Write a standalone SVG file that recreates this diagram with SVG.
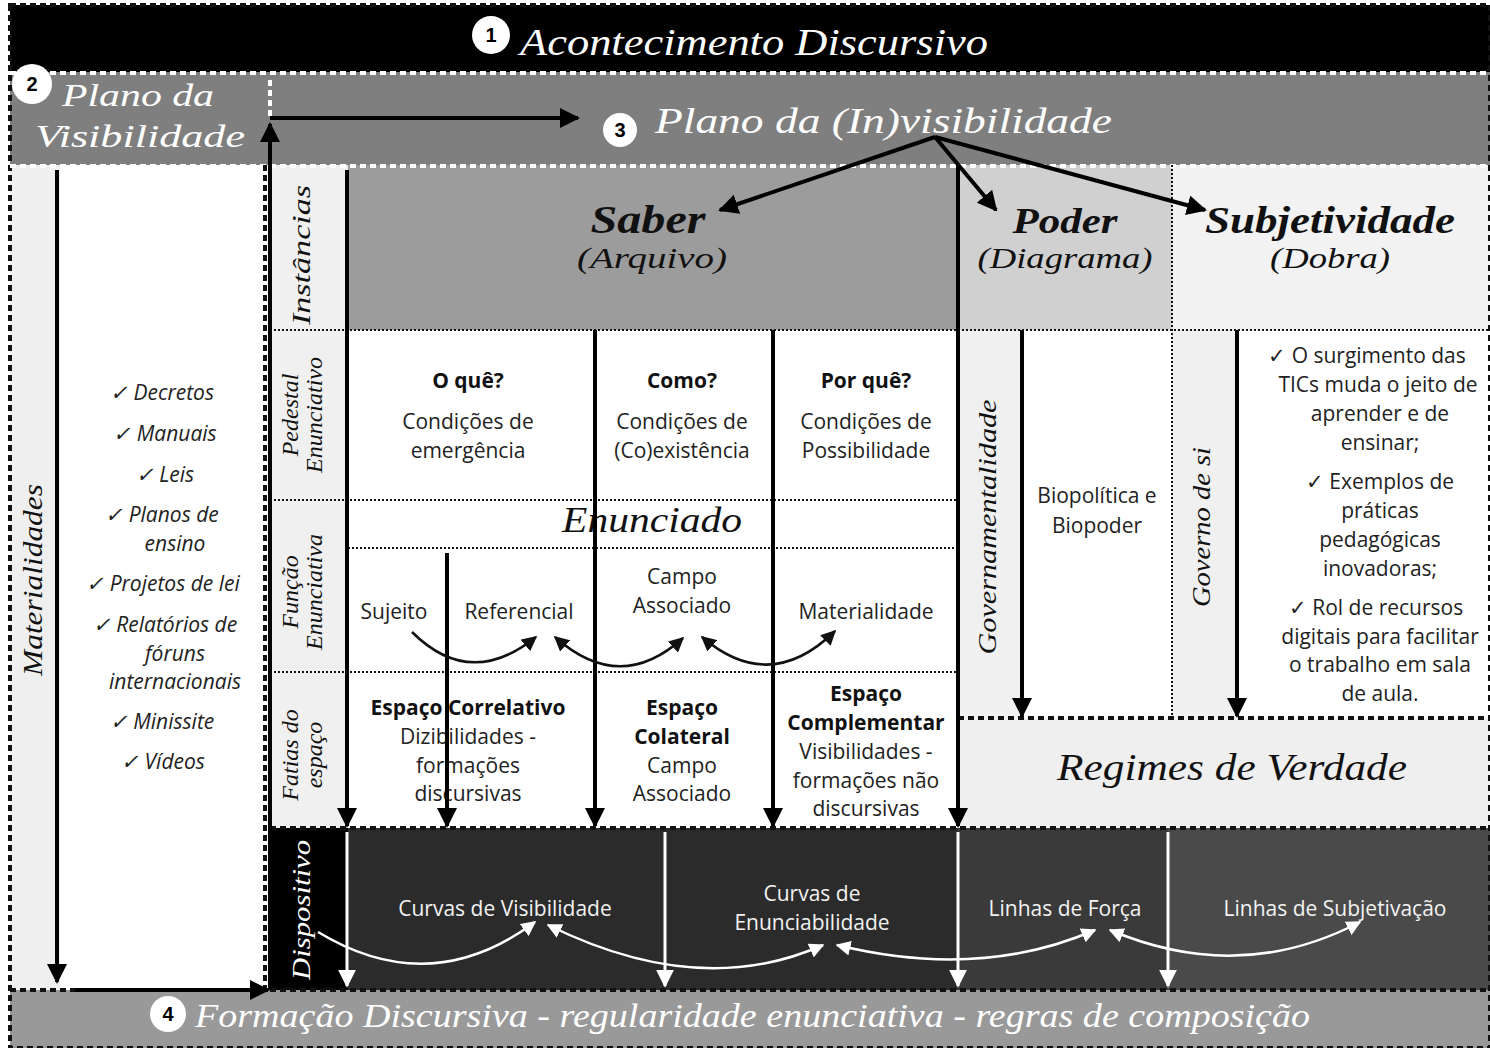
<svg xmlns="http://www.w3.org/2000/svg" width="1490" height="1048" viewBox="0 0 1490 1048">
<style>
.script{font-family:"Liberation Serif","DejaVu Serif",serif;font-style:italic}
.sw{fill:#fff}
.sb{fill:#111}
.body{font-family:"Open Sans","Lato","Liberation Sans",sans-serif;font-size:21px;fill:#222;text-anchor:middle}
.it{font-style:italic}
.bold{font-weight:bold;fill:#111}
.wt{font-family:"Open Sans","Lato","Liberation Sans",sans-serif;font-size:21px;fill:#f2f2f2;text-anchor:middle}
.dotk{stroke:#111;stroke-width:2;stroke-dasharray:2 2;fill:none}
.dotK{stroke:#111;stroke-width:4;stroke-dasharray:6 4;fill:none}
.dotw{stroke:#fff;stroke-width:4;stroke-dasharray:6 4;fill:none}
.ak{stroke:#000;stroke-width:4;fill:none;marker-end:url(#hk)}
.aw{stroke:#fff;stroke-width:3;fill:none;marker-end:url(#hw)}
.ck{stroke:#111;stroke-width:2.5;fill:none;marker-end:url(#hk2)}
.ck2{stroke:#111;stroke-width:2.5;fill:none;marker-start:url(#hk2s);marker-end:url(#hk2)}
.cw{stroke:#fff;stroke-width:2.5;fill:none;marker-end:url(#hw2)}
.cw2{stroke:#fff;stroke-width:2.5;fill:none;marker-start:url(#hw2s);marker-end:url(#hw2)}
.num{font-family:"Liberation Sans",sans-serif;font-weight:bold;font-size:20px;fill:#000;text-anchor:middle}
</style>
<defs>
<marker id="hk" viewBox="0 0 10 10" refX="9" refY="5" markerWidth="5" markerHeight="5" orient="auto"><path d="M0,0 L10,5 L0,10 z" fill="#000"/></marker>
<marker id="hw" viewBox="0 0 10 10" refX="9" refY="5" markerWidth="6" markerHeight="6" orient="auto"><path d="M0,0 L10,5 L0,10 z" fill="#fff"/></marker>
<marker id="hk2" viewBox="0 0 10 10" refX="9" refY="5" markerWidth="6" markerHeight="6" orient="auto"><path d="M0,0 L10,5 L0,10 z" fill="#111"/></marker>
<marker id="hk2s" viewBox="0 0 10 10" refX="1" refY="5" markerWidth="6" markerHeight="6" orient="auto"><path d="M10,0 L0,5 L10,10 z" fill="#111"/></marker>
<marker id="hw2" viewBox="0 0 10 10" refX="9" refY="5" markerWidth="6" markerHeight="6" orient="auto"><path d="M0,0 L10,5 L0,10 z" fill="#fff"/></marker>
<marker id="hw2s" viewBox="0 0 10 10" refX="1" refY="5" markerWidth="6" markerHeight="6" orient="auto"><path d="M10,0 L0,5 L10,10 z" fill="#fff"/></marker>
</defs>
<rect x="0" y="0" width="1490" height="1048" fill="#fff"/>

<g id="acontecimento">
<rect x="10" y="5" width="1480" height="67" fill="#000"/>
<circle cx="491" cy="35" r="19" fill="#fff"/>
<text x="491" y="42" class="num">1</text>
<text x="520" y="55" class="script sw" font-size="38" textLength="468" lengthAdjust="spacingAndGlyphs">Acontecimento Discursivo</text>
</g>

<g id="plano-visibilidade">
<rect x="10" y="72" width="260" height="93" fill="#7f7f7f"/>
<circle cx="32" cy="84" r="20" fill="#fff"/>
<text x="32" y="91" class="num">2</text>
<text x="62" y="106" class="script sw" font-size="32" textLength="152" lengthAdjust="spacingAndGlyphs">Plano da</text>
<text x="35" y="147" class="script sw" font-size="32" textLength="210" lengthAdjust="spacingAndGlyphs">Visibilidade</text>
</g>

<g id="plano-invisibilidade">
<rect x="270" y="72" width="1220" height="93" fill="#7f7f7f"/>
<circle cx="620" cy="130" r="17" fill="#fff"/>
<text x="620" y="137" class="num">3</text>
<text x="655" y="133" class="script sw" font-size="36" textLength="457" lengthAdjust="spacingAndGlyphs">Plano da (In)visibilidade</text>
</g>

<g id="materialidades">
<rect x="10" y="165" width="50" height="825" fill="#efefef"/>
<text transform="translate(42,580) rotate(-90)" class="script sb" font-size="28" text-anchor="middle" textLength="192" lengthAdjust="spacingAndGlyphs">Materialidades</text>
<rect x="60" y="165" width="208" height="825" fill="#fff"/>
<g class="body it" font-size="22.5">
<text x="162" y="400">✓ Decretos</text>
<text x="165" y="441">✓ Manuais</text>
<text x="165" y="482">✓ Leis</text>
<text x="162" y="522">✓ Planos de</text>
<text x="175" y="551">ensino</text>
<text x="163" y="591">✓ Projetos de lei</text>
<text x="165" y="632">✓ Relatórios de</text>
<text x="175" y="661">fóruns</text>
<text x="175" y="689">internacionais</text>
<text x="162" y="729">✓ Minissite</text>
<text x="163" y="769">✓ Vídeos</text>
</g>
</g>

<g id="instancias-col">
<rect x="270" y="165" width="78" height="663" fill="#f0f0f0"/>
<text transform="translate(310,255) rotate(-90)" class="script sb" font-size="26" text-anchor="middle" textLength="140" lengthAdjust="spacingAndGlyphs">Instâncias</text>
<text transform="translate(298,415) rotate(-90)" class="script sb" font-size="24" text-anchor="middle">Pedestal</text>
<text transform="translate(322,415) rotate(-90)" class="script sb" font-size="24" text-anchor="middle">Enunciativo</text>
<text transform="translate(298,592) rotate(-90)" class="script sb" font-size="24" text-anchor="middle">Função</text>
<text transform="translate(322,592) rotate(-90)" class="script sb" font-size="24" text-anchor="middle">Enunciativa</text>
<text transform="translate(298,755) rotate(-90)" class="script sb" font-size="24" text-anchor="middle">Fatias do</text>
<text transform="translate(322,755) rotate(-90)" class="script sb" font-size="24" text-anchor="middle">espaço</text>
</g>

<g id="saber">
<rect x="348" y="165" width="610" height="165" fill="#9c9c9c"/>
<text x="648" y="233" class="script sb" font-size="40" font-weight="bold" text-anchor="middle" textLength="115" lengthAdjust="spacingAndGlyphs">Saber</text>
<text x="652" y="268" class="script sb" font-size="30" text-anchor="middle" textLength="150" lengthAdjust="spacingAndGlyphs">(Arquivo)</text>
<rect x="348" y="330" width="610" height="498" fill="#fff"/>
<text x="468" y="388" class="body bold">O quê?</text>
<text x="468" y="429" class="body">Condições de</text>
<text x="468" y="458" class="body">emergência</text>
<text x="682" y="388" class="body bold">Como?</text>
<text x="682" y="429" class="body">Condições de</text>
<text x="682" y="458" class="body">(Co)existência</text>
<text x="866" y="388" class="body bold">Por quê?</text>
<text x="866" y="429" class="body">Condições de</text>
<text x="866" y="458" class="body">Possibilidade</text>
<text x="652" y="532" class="script sb" font-size="36" text-anchor="middle" textLength="180" lengthAdjust="spacingAndGlyphs">Enunciado</text>
<text x="394" y="619" class="body">Sujeito</text>
<text x="519" y="619" class="body">Referencial</text>
<text x="682" y="584" class="body">Campo</text>
<text x="682" y="613" class="body">Associado</text>
<text x="866" y="619" class="body">Materialidade</text>
<text x="468" y="715" class="body bold">Espaço Correlativo</text>
<text x="468" y="744" class="body">Dizibilidades  -</text>
<text x="468" y="773" class="body">formações</text>
<text x="468" y="801" class="body">discursivas</text>
<text x="682" y="715" class="body bold">Espaço</text>
<text x="682" y="744" class="body bold">Colateral</text>
<text x="682" y="773" class="body">Campo</text>
<text x="682" y="801" class="body">Associado</text>
<text x="866" y="701" class="body bold">Espaço</text>
<text x="866" y="730" class="body bold">Complementar</text>
<text x="866" y="759" class="body">Visibilidades  -</text>
<text x="866" y="788" class="body">formações não</text>
<text x="866" y="816" class="body">discursivas</text>
</g>

<g id="poder">
<rect x="958" y="165" width="214" height="165" fill="#d0d0d0"/>
<text x="1065" y="233" class="script sb" font-size="36" font-weight="bold" text-anchor="middle" textLength="105" lengthAdjust="spacingAndGlyphs">Poder</text>
<text x="1065" y="268" class="script sb" font-size="30" text-anchor="middle" textLength="175" lengthAdjust="spacingAndGlyphs">(Diagrama)</text>
<rect x="958" y="330" width="64" height="388" fill="#f0f0f0"/>
<text transform="translate(996,527) rotate(-90)" class="script sb" font-size="26" text-anchor="middle" textLength="255" lengthAdjust="spacingAndGlyphs">Governamentalidade</text>
<rect x="1022" y="330" width="150" height="388" fill="#fff"/>
<text x="1097" y="503" class="body">Biopolítica e</text>
<text x="1097" y="533" class="body">Biopoder</text>
</g>

<g id="subjetividade">
<rect x="1172" y="165" width="318" height="165" fill="#f2f2f2"/>
<text x="1330" y="233" class="script sb" font-size="38" font-weight="bold" text-anchor="middle" textLength="250" lengthAdjust="spacingAndGlyphs">Subjetividade</text>
<text x="1330" y="268" class="script sb" font-size="30" text-anchor="middle" textLength="120" lengthAdjust="spacingAndGlyphs">(Dobra)</text>
<rect x="1172" y="330" width="65" height="388" fill="#f0f0f0"/>
<text transform="translate(1210,527) rotate(-90)" class="script sb" font-size="26" text-anchor="middle" textLength="160" lengthAdjust="spacingAndGlyphs">Governo de si</text>
<rect x="1237" y="330" width="253" height="388" fill="#fff"/>
<g class="body">
<text x="1367" y="363">✓ O surgimento das</text>
<text x="1378" y="392">TICs muda o jeito de</text>
<text x="1380" y="421">aprender e de</text>
<text x="1380" y="450">ensinar;</text>
<text x="1380" y="489">✓ Exemplos de</text>
<text x="1380" y="518">práticas</text>
<text x="1380" y="547">pedagógicas</text>
<text x="1380" y="576">inovadoras;</text>
<text x="1376" y="615">✓ Rol de recursos</text>
<text x="1380" y="644">digitais para facilitar</text>
<text x="1380" y="672">o trabalho em sala</text>
<text x="1380" y="701">de aula.</text>
</g>
</g>

<g id="regimes">
<rect x="958" y="718" width="532" height="110" fill="#efefef"/>
<text x="1232" y="780" class="script sb" font-size="38" text-anchor="middle" textLength="350" lengthAdjust="spacingAndGlyphs">Regimes de Verdade</text>
</g>

<g id="dispositivo">
<rect x="270" y="828" width="78" height="162" fill="#000"/>
<text transform="translate(310,910) rotate(-90)" class="script sw" font-size="26" text-anchor="middle" textLength="140" lengthAdjust="spacingAndGlyphs">Dispositivo</text>
<rect x="348" y="828" width="610" height="162" fill="#2b2b2b"/>
<rect x="958" y="828" width="210" height="162" fill="#3a3a3a"/>
<rect x="1168" y="828" width="322" height="162" fill="#4a4a4a"/>
<text x="505" y="916" class="wt">Curvas de Visibilidade</text>
<text x="812" y="901" class="wt">Curvas de</text>
<text x="812" y="930" class="wt">Enunciabilidade</text>
<text x="1065" y="916" class="wt">Linhas de  Força</text>
<text x="1335" y="916" class="wt">Linhas de  Subjetivação</text>
</g>

<g id="formacao">
<rect x="10" y="990" width="1480" height="58" fill="#999"/>
<circle cx="168" cy="1014" r="18" fill="#fff"/>
<text x="168" y="1021" class="num">4</text>
<text x="195" y="1027" class="script sw" font-size="33" textLength="1115" lengthAdjust="spacingAndGlyphs">Formação Discursiva - regularidade enunciativa - regras de composição</text>
</g>

<g id="dividers">
<rect x="10" y="5" width="1480" height="1043" class="dotK" stroke-width="2"/>
<line x1="10" y1="73" x2="1490" y2="73" class="dotw"/>
<line x1="10" y1="166" x2="1490" y2="166" class="dotw"/>
<line x1="270" y1="80" x2="270" y2="116" class="dotw"/>
<line x1="270" y1="330" x2="1490" y2="330" class="dotk"/>
<line x1="270" y1="500" x2="958" y2="500" class="dotk"/>
<line x1="348" y1="548" x2="958" y2="548" class="dotk"/>
<line x1="270" y1="672" x2="958" y2="672" class="dotk"/>
<line x1="1172" y1="165" x2="1172" y2="718" class="dotk"/>
<line x1="265" y1="165" x2="265" y2="990" class="dotK" stroke-width="3"/>
<line x1="958" y1="718" x2="1490" y2="718" class="dotK"/>
<line x1="270" y1="828" x2="1490" y2="828" class="dotK"/>
<line x1="10" y1="990" x2="1490" y2="990" class="dotK"/>
</g>

<g id="connectors">
<line x1="57" y1="170" x2="57" y2="982" class="ak"/>
<line x1="75" y1="990" x2="268" y2="990" class="ak"/>
<line x1="270" y1="990" x2="270" y2="124" class="ak"/>
<line x1="270" y1="118" x2="578" y2="118" class="ak"/>
<line x1="935" y1="137" x2="720" y2="210" class="ak"/>
<line x1="935" y1="137" x2="996" y2="210" class="ak"/>
<line x1="935" y1="137" x2="1205" y2="210" class="ak"/>
<line x1="347" y1="170" x2="347" y2="826" class="ak"/>
<line x1="958" y1="165" x2="958" y2="826" class="ak"/>
<line x1="595" y1="330" x2="595" y2="826" class="ak"/>
<line x1="773" y1="330" x2="773" y2="826" class="ak"/>
<line x1="447" y1="553" x2="447" y2="826" class="ak"/>
<line x1="1022" y1="330" x2="1022" y2="716" class="ak"/>
<line x1="1237" y1="330" x2="1237" y2="716" class="ak"/>
<path d="M412,632 Q470,690 536,637" class="ck"/>
<path d="M555,637 Q620,695 683,638" class="ck2"/>
<path d="M702,637 Q770,695 835,631" class="ck2"/>
<line x1="347" y1="832" x2="347" y2="986" class="aw"/>
<line x1="665" y1="832" x2="665" y2="986" class="aw"/>
<line x1="958" y1="832" x2="958" y2="986" class="aw"/>
<line x1="1168" y1="832" x2="1168" y2="986" class="aw"/>
<path d="M318,932 Q430,1000 535,922" class="cw"/>
<path d="M548,925 Q700,1000 823,945" class="cw2"/>
<path d="M837,945 Q980,980 1095,930" class="cw2"/>
<path d="M1110,930 Q1240,985 1360,922" class="cw2"/>
</g>
</svg>
